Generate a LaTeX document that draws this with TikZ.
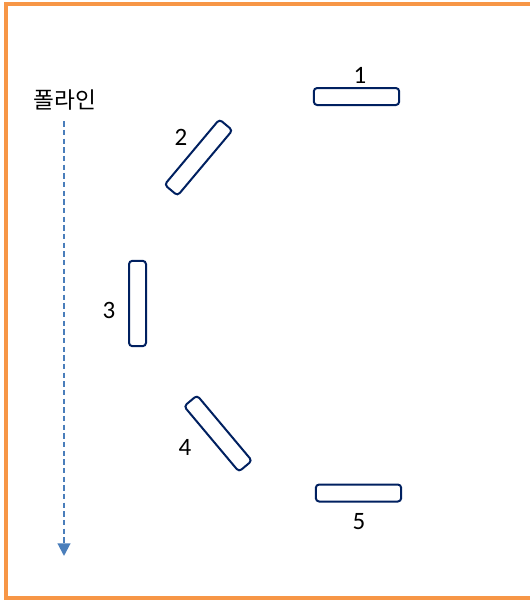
\documentclass[tikz,border=0pt]{standalone}
\usepackage{fontspec}
\usepackage{tikz}
\usetikzlibrary{arrows.meta}
\setmainfont{Carlito}
\newfontfamily\kr{Noto Sans CJK KR}
\definecolor{frameorange}{HTML}{F79646}
\definecolor{barnavy}{HTML}{002060}
\definecolor{flowblue}{HTML}{4A7EBB}
\tikzset{
  bar/.style={draw=barnavy,line width=1.5pt,rounded corners=2.5pt,minimum width=64pt,minimum height=12.75pt,inner sep=0pt},
  num/.style={font=\fontsize{18.75}{22}\selectfont,inner sep=0pt},
  flow/.style={draw=flowblue,line width=1.5pt,dash pattern=on 4pt off 2.5pt,-{Triangle[width=9.5pt,length=9.5pt]}}
}
\begin{document}
\begin{tikzpicture}[x=0.75pt,y=-0.75pt]
        \useasboundingbox (0,0) rectangle (530,601);
        \draw[frameorange,line width=3pt] (540,4) -- (6,4) -- (6,598) -- (540,598);
        \node[bar] (b1) at (356.5,96.5) {};
        \node[bar,rotate=50] (b2) at (198.5,157.5) {};
        \node[bar,rotate=90] (b3) at (137.5,303.5) {};
        \node[bar,rotate=-50] (b4) at (218,433.5) {};
        \node[bar] (b5) at (358.5,493) {};
        \node[num] (n1) at (360,75) {1};
        \node[num] (n2) at (181,137) {2};
        \node[num] (n3) at (109,310) {3};
        \node[num] (n4) at (185,447) {4};
        \node[num] (n5) at (359,522) {5};
        \node[font=\kr\fontsize{17}{20}\selectfont,inner sep=0pt] (title) at (65,100) {폴라인};
        \coordinate (flowend) at (64,556);
        \draw[flow] ([xshift=-0.75pt,yshift=-8pt]title.south) -- (flowend);
    \end{tikzpicture}
\end{document}
